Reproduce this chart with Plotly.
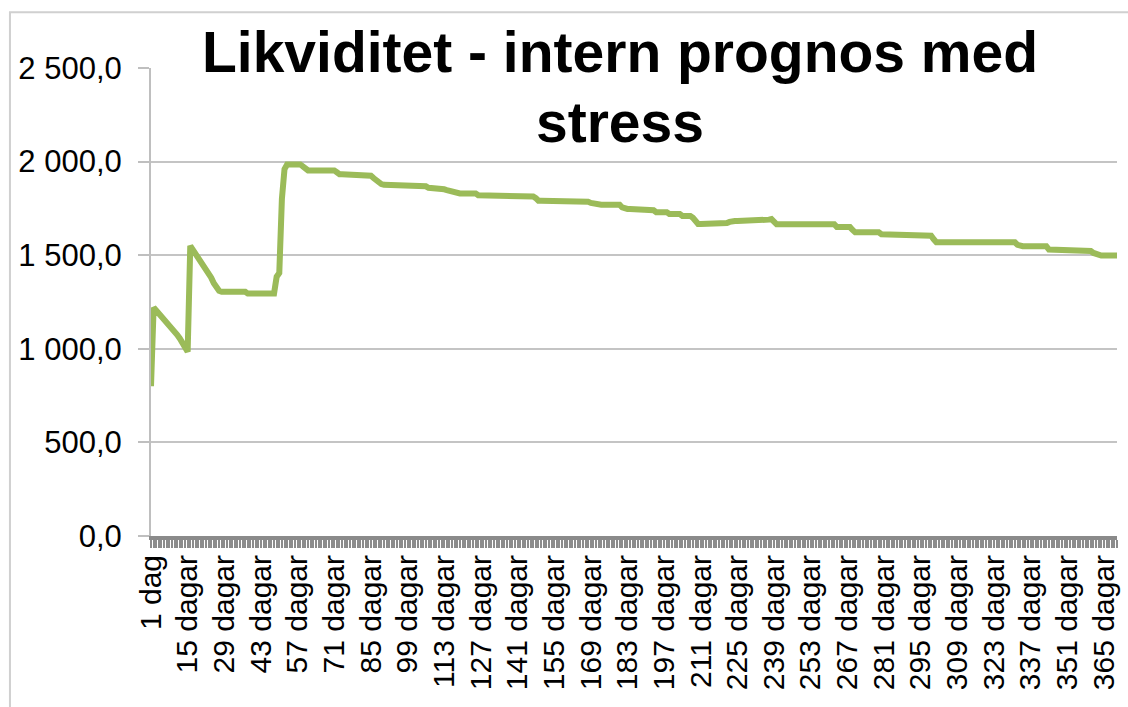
import plotly.graph_objects as go

# Run-length encoded daily liquidity levels (value, number of days)
level_values = [
    800, 1220, 1205, 1190, 1175, 1160, 1140, 1120, 1108, 1095, 1075, 1055, 1035, 1010, 985,
    1550, 1530, 1510, 1490, 1470, 1450, 1430, 1405, 1380, 1350, 1325, 1310,
    1305, 1295, 1385, 1405, 1800, 1960, 1985, 1975, 1965, 1953, 1943, 1933,
    1925, 1912, 1900, 1890, 1880, 1876, 1868, 1860,
    1852, 1848, 1843, 1838, 1834, 1832, 1830, 1820, 1814, 1805, 1791,
    1785, 1779, 1775, 1770, 1755, 1747, 1740, 1730, 1720, 1710, 1700, 1685,
    1667, 1672, 1678, 1683, 1690, 1693, 1680, 1665, 1650, 1635, 1622, 1612, 1604,
    1585, 1569, 1555, 1548, 1530, 1522, 1512, 1505, 1498,
]
level_days = [
    1, 1, 1, 1, 1, 1, 1, 1, 1, 1, 1, 1, 1, 1, 1,
    1, 1, 1, 1, 1, 1, 1, 1, 1, 1, 1, 1,
    10, 11, 1, 1, 1, 1, 6, 1, 1, 11, 1, 12,
    1, 1, 1, 1, 1, 8, 9, 6,
    1, 1, 1, 1, 1, 1, 7, 21, 1, 1, 19,
    1, 1, 1, 10, 1, 7, 5, 5, 5, 4, 1, 1,
    11, 1, 1, 14, 1, 1, 1, 23, 6, 1, 10, 10, 10,
    1, 31, 1, 11, 16, 1, 1, 1, 8,
]

tick_days = [1, 15, 29, 43, 57, 71, 85, 99, 113, 127, 141, 155, 169, 183,
             197, 211, 225, 239, 253, 267, 281, 295, 309, 323, 337, 351, 365]
tick_labels = ["1 dag", "15 dagar", "29 dagar", "43 dagar", "57 dagar", "71 dagar",
               "85 dagar", "99 dagar", "113 dagar", "127 dagar", "141 dagar",
               "155 dagar", "169 dagar", "183 dagar", "197 dagar", "211 dagar",
               "225 dagar", "239 dagar", "253 dagar", "267 dagar", "281 dagar",
               "295 dagar", "309 dagar", "323 dagar", "337 dagar", "351 dagar",
               "365 dagar"]

values = [v for v, n in zip(level_values, level_days) for _ in range(n)]
days = list(range(1, len(values) + 1))

FONT = "Liberation Sans, Arial, sans-serif"

fig = go.Figure()
fig.add_trace(go.Scatter(x=days, y=values, mode="lines",
                         line=dict(color="#9BBB59", width=6),
                         showlegend=False, hoverinfo="skip"))

fig.update_layout(
    width=1128, height=707,
    paper_bgcolor="white", plot_bgcolor="white",
    margin=dict(l=151, r=11, t=68, b=171, autoexpand=False),
    separators=", ",
    font=dict(family=FONT, color="black", size=30),
    showlegend=False,
)

fig.update_yaxes(
    range=[0, 2500], dtick=500, tick0=0, tickformat=",.1f",
    showgrid=True, gridcolor="#C4C4C4", gridwidth=2,
    showline=True, linecolor="#BFBFBF", linewidth=2,
    ticks="outside", ticklen=11, tickwidth=2, tickcolor="#BFBFBF",
    ticklabelstandoff=10,
    zeroline=False,
    tickfont=dict(family=FONT, size=31, color="black"),
    automargin=False,
)

fig.update_xaxes(
    range=[1, days[-1]],
    tickmode="array", tickvals=tick_days, ticktext=tick_labels,
    tickangle=-90,
    showgrid=False, zeroline=False,
    showline=True, linecolor="#8A8A8A", linewidth=4,
    ticks="outside", ticklen=8, tickwidth=2, tickcolor="#8C8C8C",
    minor=dict(dtick=1, tick0=1, ticks="outside", ticklen=8, tickwidth=2,
               tickcolor="#8C8C8C", showgrid=False),
    ticklabelstandoff=-5,
    tickfont=dict(family=FONT, size=30, color="black"),
    automargin=False,
)

# White band behind the title hiding the top gridline, as in the original
fig.add_shape(type="rect", xref="paper", yref="paper",
              x0=0.0424, x1=0.9255, y0=0.97, y1=1.03,
              line=dict(width=0), fillcolor="white", layer="above")

# Title in two lines
fig.add_annotation(text="<b>Likviditet - intern prognos med</b>",
                   xref="paper", yref="paper", x=0.4855, y=1.035,
                   xanchor="center", yanchor="middle", showarrow=False,
                   font=dict(family=FONT, size=57, color="black"))
fig.add_annotation(text="<b>stress</b>",
                   xref="paper", yref="paper", x=0.4855, y=0.884,
                   xanchor="center", yanchor="middle", showarrow=False,
                   font=dict(family=FONT, size=57, color="black"))

# Outer chart frame (light grey border, partially cropped like the original)
fig.add_shape(type="rect", xref="paper", yref="paper",
              x0=-0.146, x1=1.05, y0=-0.6, y1=1.119,
              line=dict(color="#D0D0D0", width=2), fillcolor="rgba(0,0,0,0)",
              layer="below")

fig.write_html("out.html",
               config={"displayModeBar": False},
               post_script="document.body.style.margin='0px';document.body.style.overflow='hidden';")
